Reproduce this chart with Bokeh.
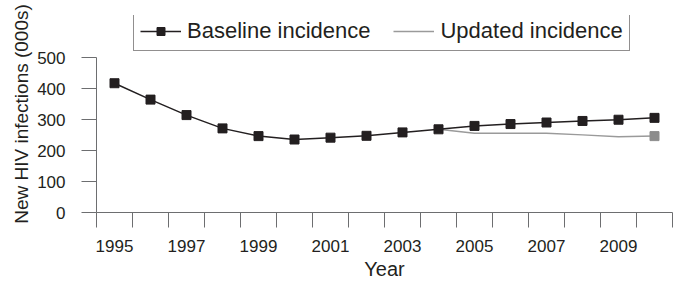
from bokeh.plotting import figure
from bokeh.models import FixedTicker, Legend, LegendItem, Range1d
from bokeh.embed import file_html
from bokeh.resources import INLINE

years = [1995, 1996, 1997, 1998, 1999, 2000, 2001, 2002, 2003, 2004, 2005, 2006, 2007, 2008, 2009, 2010]
baseline = [418, 365, 315, 272, 247, 236, 242, 248, 259, 269, 280, 286, 291, 296, 300, 306]
updated_years = [2004, 2005, 2006, 2007, 2008, 2009, 2010]
updated = [269, 256, 256, 256, 251, 245, 247]
tick_labels_years = [1995, 1997, 1999, 2001, 2003, 2005, 2007, 2009]
y_ticks = [0, 100, 200, 300, 400, 500]

FONT = "Liberation Sans"
TXT = "#231f20"
AXC = "#6d6e70"

p = figure(width=681, height=282, output_backend="svg", toolbar_location=None,
           x_range=Range1d(1994.5, 2010.5), y_range=Range1d(0, 637),
           min_border_left=96, min_border_right=9, min_border_top=15, min_border_bottom=70)
p.outline_line_color = None
p.xgrid.grid_line_color = None
p.ygrid.grid_line_color = None

# x axis: category-style ticks at boundaries, labels at centres
bounds_ticks = [y - 0.5 for y in years] + [years[-1] + 0.5]
xa = p.xaxis[0]
xa.ticker = FixedTicker(ticks=tick_labels_years, minor_ticks=bounds_ticks)
xa.major_tick_line_color = None
xa.major_tick_out = 15
xa.major_tick_in = 0
xa.minor_tick_out = 15
xa.minor_tick_in = 0
xa.minor_tick_line_color = AXC
xa.axis_line_color = AXC
xa.major_label_standoff = 12
xa.major_label_text_font = FONT
xa.major_label_text_font_size = "17px"
xa.major_label_text_color = TXT
xa.axis_label = "Year"
xa.axis_label_text_font = FONT
xa.axis_label_text_font_size = "20px"
xa.axis_label_text_font_style = "normal"
xa.axis_label_text_color = TXT
xa.axis_label_standoff = 3

ya = p.yaxis[0]
ya.ticker = FixedTicker(ticks=y_ticks, minor_ticks=[])
ya.bounds = (0, 500)
ya.major_tick_out = 15
ya.major_tick_in = 0
ya.major_tick_line_color = AXC
ya.axis_line_color = AXC
ya.minor_tick_line_color = None
ya.major_label_standoff = 16
ya.major_label_text_font = FONT
ya.major_label_text_font_size = "17px"
ya.major_label_text_color = TXT
ya.axis_label = "New HIV infections (000s)"
ya.axis_label_text_font = FONT
ya.axis_label_text_font_size = "19px"
ya.axis_label_text_font_style = "normal"
ya.axis_label_text_color = TXT
ya.axis_label_standoff = 2

upd_line = p.line(updated_years, updated, line_color="#9a9a9a", line_width=1.5)
p.scatter([updated_years[-1]], [updated[-1]], marker="square", size=9,
          fill_color="#8c8c8c", line_color="#8c8c8c")
base_line = p.line(years, baseline, line_color=TXT, line_width=1.5)
base_pts = p.scatter(years, baseline, marker="square", size=9, fill_color=TXT, line_color=TXT)

legend = Legend(items=[LegendItem(label="Baseline incidence", renderers=[base_line, base_pts]),
                       LegendItem(label="Updated incidence", renderers=[upd_line])],
                orientation="horizontal", location=(37, 161),
                label_text_font=FONT, label_text_font_size="22px", label_text_color=TXT,
                glyph_width=41, glyph_height=20, label_standoff=6, spacing=23,
                padding=6, margin=0, border_line_color="#231f20", border_line_width=1,
                label_height=23)
p.add_layout(legend, "center")

open("out.html", "w").write(file_html(p, INLINE))
